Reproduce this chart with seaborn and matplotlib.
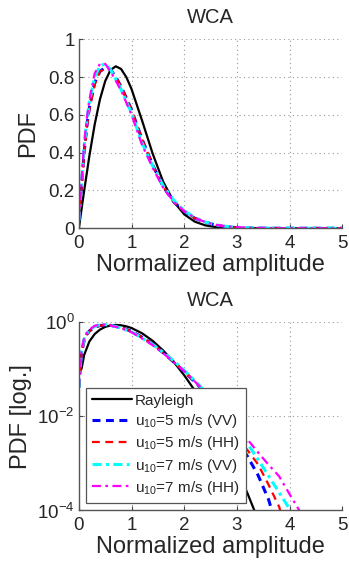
import numpy as np
import pandas as pd
import matplotlib
matplotlib.use("Agg")
import matplotlib.pyplot as plt
import matplotlib.ticker as mticker
import seaborn as sns

# values
x_ray = [0, 0.05, 0.1, 0.2, 0.3, 0.4, 0.5, 0.6, 0.7, 0.8, 0.9, 1.0, 1.2, 1.4, 1.6, 1.8,
         2.0, 2.2, 2.4, 2.6, 2.8, 3.0, 3.2, 3.4, 5.0]
y_ray = [0, 0.10, 0.198, 0.384, 0.549, 0.682, 0.779, 0.837, 0.857, 0.843, 0.800, 0.736,
         0.569, 0.395, 0.246, 0.141, 0.0733, 0.0348, 0.0152, 0.0060, 0.0022,
         0.00074, 0.00023, 0.000064, 1e-9]

x_meas = [0, 0.05, 0.1, 0.15, 0.2, 0.3, 0.4, 0.5, 0.6, 0.7, 0.8, 0.9, 1.0, 1.2,
          1.4, 1.6, 1.8, 2.0, 2.2, 2.4, 2.6, 2.8, 3.0, 3.2, 3.4, 3.6, 3.8, 4.0, 4.2, 5.0]
y_vv5 = [0.04, 0.22, 0.40, 0.54, 0.64, 0.77, 0.83, 0.85, 0.84, 0.80, 0.75, 0.69,
         0.625, 0.47, 0.335, 0.22, 0.14, 0.088, 0.053, 0.032, 0.016, 0.0071,
         0.0032, 0.0014, 0.00056, 0.00017, 0.00003, 1e-6, 1e-7, 1e-9]
y_hh5 = [0.04, 0.21, 0.39, 0.53, 0.63, 0.76, 0.83, 0.845, 0.84, 0.80, 0.75, 0.69,
         0.625, 0.47, 0.335, 0.22, 0.14, 0.088, 0.053, 0.032, 0.0166, 0.0079,
         0.0035, 0.0019, 0.00095, 0.00035, 0.00012, 0.00002, 1e-7, 1e-9]
y_vv7 = [0.04, 0.24, 0.43, 0.57, 0.67, 0.80, 0.86, 0.87, 0.84, 0.79, 0.735, 0.67,
         0.61, 0.45, 0.33, 0.225, 0.148, 0.093, 0.056, 0.033, 0.018, 0.0096,
         0.0050, 0.0026, 0.0012, 0.00054, 0.00024, 0.000107, 0.00003, 1e-9]
y_hh7 = [0.04, 0.25, 0.45, 0.58, 0.68, 0.82, 0.87, 0.87, 0.83, 0.78, 0.73, 0.665,
         0.60, 0.44, 0.32, 0.215, 0.14, 0.09, 0.054, 0.033, 0.018, 0.0102,
         0.0058, 0.0032, 0.0017, 0.00093, 0.00053, 0.00022, 0.000093, 1e-9]

labels = ["Rayleigh", r"u$_{10}$=5 m/s (VV)", r"u$_{10}$=5 m/s (HH)",
          r"u$_{10}$=7 m/s (VV)", r"u$_{10}$=7 m/s (HH)"]

sns.set_theme(style="white")
plt.rcParams["font.family"] = ["Liberation Sans", "DejaVu Sans"]
plt.rcParams["mathtext.fontset"] = "custom"
plt.rcParams["mathtext.rm"] = "Liberation Sans"

series = [
    (x_ray, y_ray, "black", 1.6, None),
    (x_meas, y_vv5, "#0000ff", 2.2, (2.6, 1.8)),
    (x_meas, y_hh5, "#ff0000", 1.6, (3.5, 2.5)),
    (x_meas, y_vv7, "#00ffff", 2.2, (3, 1.4, 1, 1.4)),
    (x_meas, y_hh7, "#ff00ff", 1.6, (4, 2, 1.2, 2)),
]

fig = plt.figure(figsize=(3.49, 5.65), dpi=100)
ax1 = fig.add_axes([0.226, 0.596, 0.755, 0.3345])
ax2 = fig.add_axes([0.226, 0.0965, 0.755, 0.334])
ax2.set_yscale("log", nonpositive="mask")

for ax in (ax1, ax2):
    for (xs, ys, c, lw, dash), lab in zip(series, labels):
        kw = dict(color=c, lw=lw, label=lab)
        if dash is not None:
            kw["dashes"] = dash
        else:
            kw["linestyle"] = "-"
        sns.lineplot(x=xs, y=ys, ax=ax, **kw)

# top: linear
ax1.set_xlim(0, 5)
ax1.set_ylim(0, 1)
ax1.set_yticks([0, 0.2, 0.4, 0.6, 0.8, 1])
ax1.yaxis.set_major_formatter(mticker.FuncFormatter(lambda v, p: "%g" % v))
ax1.set_ylabel("PDF", fontsize=17, labelpad=7)
ax1.set_title("WCA", fontsize=14.5, pad=12)
if ax1.get_legend():
    ax1.get_legend().remove()

# bottom: log
ax2.set_xlim(0, 5)
ax2.set_ylim(1e-4, 1)
ax2.set_yticks([1e-4, 1e-2, 1])
ax2.yaxis.set_minor_locator(mticker.NullLocator())
ax2.set_ylabel("PDF [log.]", fontsize=17, labelpad=4)
ax2.set_title("WCA", fontsize=14.5, pad=11)

for ax in (ax1, ax2):
    ax.set_xticks([0, 1, 2, 3, 4, 5])
    ax.xaxis.set_major_formatter(mticker.FuncFormatter(lambda v, p: "%g" % v))
    ax.set_xlabel("Normalized amplitude", fontsize=17, labelpad=1)
    ax.tick_params(axis="both", labelsize=13.5, direction="in", length=3,
                   width=0.8, color="#444444", left=True, bottom=True)
    ax.tick_params(axis="x", pad=5)
    ax.tick_params(axis="y", pad=3)
    ax.grid(True, linestyle=(0, (1, 3)), color="#999999", lw=0.8)
    for s in ("top", "right"):
        ax.spines[s].set_visible(False)
    for s in ("left", "bottom"):
        ax.spines[s].set_color("#555555")
        ax.spines[s].set_linewidth(1.0)

leg = ax2.legend(loc="lower left", bbox_to_anchor=(0.027, 0.04), borderaxespad=0,
                 fontsize=11, handlelength=2.6, handletextpad=0.2, labelspacing=0.28,
                 borderpad=0.4, fancybox=False, framealpha=1, edgecolor="#555555")
leg.get_frame().set_linewidth(0.9)

fig.savefig("out.png", dpi=100)
